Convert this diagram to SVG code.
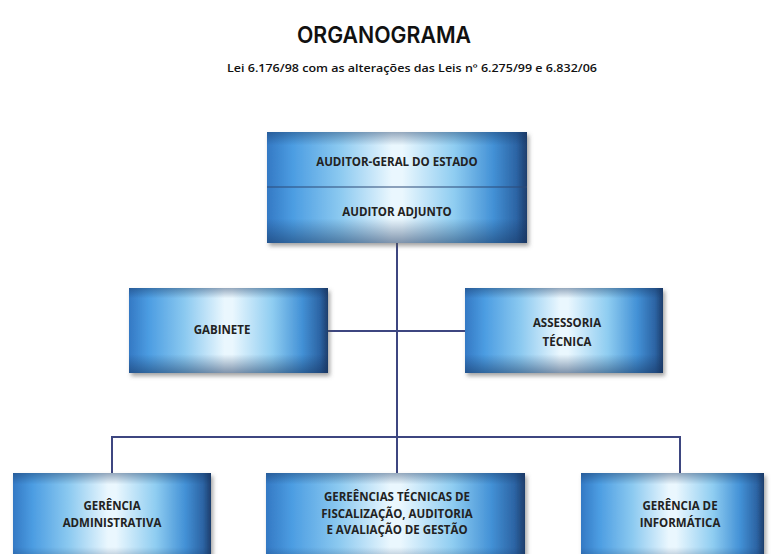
<svg xmlns="http://www.w3.org/2000/svg" width="771" height="554" viewBox="0 0 771 554">
<defs>
<linearGradient id="gh" x1="0" y1="0" x2="1" y2="0">
<stop offset="0" stop-color="#3479c4"/>
<stop offset="0.1" stop-color="#4c9de2"/>
<stop offset="0.28" stop-color="#8bc9f0"/>
<stop offset="0.48" stop-color="#eaf7fe"/>
<stop offset="0.52" stop-color="#eaf7fe"/>
<stop offset="0.72" stop-color="#8fcdf1"/>
<stop offset="0.87" stop-color="#4391d6"/>
<stop offset="0.96" stop-color="#2c64a4"/>
<stop offset="1" stop-color="#1e3e6c"/>
</linearGradient>
<linearGradient id="gv" x1="0" y1="0" x2="0" y2="1">
<stop offset="0" stop-color="#14305a" stop-opacity="0.4"/>
<stop offset="0.12" stop-color="#14305a" stop-opacity="0"/>
<stop offset="0.78" stop-color="#14305a" stop-opacity="0"/>
<stop offset="1" stop-color="#14305a" stop-opacity="0.5"/>
</linearGradient>
<filter id="sh" x="-10%" y="-10%" width="125%" height="130%">
<feDropShadow dx="2" dy="3" stdDeviation="2.2" flood-color="#555" flood-opacity="0.55"/>
</filter>
<style>
.box{fill:url(#gh);filter:url(#sh)}
.ov{fill:url(#gv)}
.t{font-family:"Open Sans","Noto Sans",sans-serif;font-weight:700;font-size:11.5px;fill:#222;text-anchor:middle}
.ln{stroke:#3d4680;stroke-width:2;fill:none}
</style>
</defs>
<rect width="771" height="554" fill="#fff"/>
<text x="384" y="43" font-family="Inter,'Noto Sans',sans-serif" font-weight="600" font-size="23" fill="#111" text-anchor="middle" textLength="174" lengthAdjust="spacingAndGlyphs">ORGANOGRAMA</text>
<text x="412" y="72" font-family="'Open Sans','Noto Sans',sans-serif" font-weight="600" font-size="10.5" fill="#111" text-anchor="middle" textLength="370" lengthAdjust="spacingAndGlyphs">Lei 6.176/98 com as alterações das Leis nº 6.275/99 e 6.832/06</text>
<g id="connectors">
<path class="ln" d="M397 243 V473"/>
<path class="ln" d="M328 331 H465"/>
<path class="ln" d="M112 473 V437 H680 V473"/>
</g>
<g id="auditor">
<rect class="box" x="267" y="132" width="260" height="111"/>
<rect class="ov" x="267" y="132" width="260" height="111"/>
<line x1="267" y1="187" x2="527" y2="187" stroke="#2c4a78" stroke-width="1.2"/>
<text class="t" x="397" y="166">AUDITOR-GERAL DO ESTADO</text>
<text class="t" x="397" y="216">AUDITOR ADJUNTO</text>
</g>
<g id="gabinete">
<rect class="box" x="129" y="288" width="199" height="85"/>
<rect class="ov" x="129" y="288" width="199" height="85"/>
<text class="t" x="222" y="334">GABINETE</text>
</g>
<g id="assessoria">
<rect class="box" x="465" y="288" width="198" height="85"/>
<rect class="ov" x="465" y="288" width="198" height="85"/>
<text class="t" x="567" y="327">ASSESSORIA</text>
<text class="t" x="567" y="346">TÉCNICA</text>
</g>
<g id="gerencia-adm">
<rect class="box" x="13" y="473" width="198" height="95"/>
<rect class="ov" x="13" y="473" width="198" height="95"/>
<text class="t" x="112" y="510">GERÊNCIA</text>
<text class="t" x="112" y="527">ADMINISTRATIVA</text>
</g>
<g id="gerencias-tecnicas">
<rect class="box" x="266" y="473" width="259" height="95"/>
<rect class="ov" x="266" y="473" width="259" height="95"/>
<text class="t" x="397" y="501">GEREÊNCIAS TÉCNICAS DE</text>
<text class="t" x="397" y="518">FISCALIZAÇÃO, AUDITORIA</text>
<text class="t" x="397" y="534">E AVALIAÇÃO DE GESTÃO</text>
</g>
<g id="gerencia-info">
<rect class="box" x="581" y="473" width="183" height="95"/>
<rect class="ov" x="581" y="473" width="183" height="95"/>
<text class="t" x="680" y="510">GERÊNCIA DE</text>
<text class="t" x="680" y="527">INFORMÁTICA</text>
</g>
</svg>
